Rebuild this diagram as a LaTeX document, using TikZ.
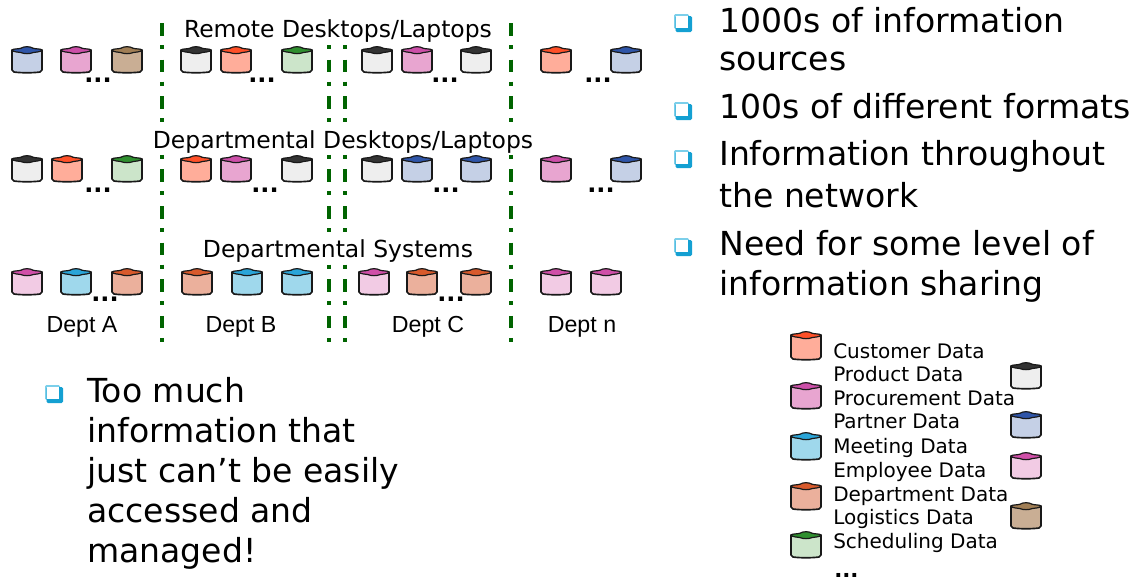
\documentclass[tikz,border=0pt]{standalone}
\usepackage{fontspec}
\setmainfont{DejaVu Sans}
\newfontfamily\arialf{Liberation Sans}
\definecolor{bluebody}{HTML}{C5D0E6}\definecolor{bluetop}{HTML}{2F55A8}
\definecolor{pinkbody}{HTML}{E8A5D0}\definecolor{pinktop}{HTML}{CC4FA8}
\definecolor{tanbody}{HTML}{C9AE94}\definecolor{tantop}{HTML}{A07E55}
\definecolor{darkbody}{HTML}{EEEEEE}\definecolor{darktop}{HTML}{333333}
\definecolor{orangebody}{HTML}{FFAD9A}\definecolor{orangetop}{HTML}{FF5028}
\definecolor{greenbody}{HTML}{CCE5CA}\definecolor{greentop}{HTML}{2F8F2F}
\definecolor{lightbody}{HTML}{F2CBE4}\definecolor{lighttop}{HTML}{D04FA8}
\definecolor{cyanbody}{HTML}{9FD8EC}\definecolor{cyantop}{HTML}{2AA5D8}
\definecolor{deptbody}{HTML}{EBB09C}\definecolor{depttop}{HTML}{D85A2C}
\definecolor{divider}{HTML}{006400}
\definecolor{bulletdark}{HTML}{14A0D2}
\definecolor{bulletlight}{HTML}{7CCFEA}
\newcommand{\cyl}[4][0]{% extra height, centre x, top y, colour
  \begin{scope}[shift={(#2,#3)}]
    \pgfmathsetmacro{\hh}{28+#1}
    \draw[line width=1.25pt,fill=#4body,line join=round,draw=black!90]
      (-15,4) -- (-15,\hh-4) -- (-13,\hh-2) .. controls (-6,\hh-1) and (6,\hh-1) .. (13,\hh-2) -- (15,\hh-4) -- (15,4) -- cycle;
    \draw[line width=0.9pt,fill=#4top,line join=round,draw=black!90]
      (-15,4) .. controls (-14,2.6) and (-9,3.2) .. (-6,2.2) .. controls (-3,0.2) and (3,0.2) .. (6,2.2) .. controls (9,3.2) and (14,2.6) .. (15,4) .. controls (14,6) and (9,6) .. (6,6.6) .. controls (3,8) and (-3,8) .. (-6,6.6) .. controls (-9,6) and (-14,6) .. (-15,4) -- cycle;
  \end{scope}}
\newcommand{\bul}[2]{\begin{scope}[shift={(#1,#2)}]
  \fill[bulletlight,rounded corners=1pt] (0,0) rectangle (15,15);
  \fill[bulletdark,rounded corners=1pt] (1.5,2) rectangle (18,18);
  \fill[white] (2,2) rectangle (14,14);
\end{scope}}
\tikzset{
  dividerline/.style={divider,line width=3pt,dash pattern=on 9.4pt off 7.1pt on 3pt off 7.95pt},
  maskedlabel/.style={fill=white,inner sep=0pt,anchor=base,text height=12pt,text depth=3.5pt,font=\fontsize{17.6pt}{20pt}\selectfont},
  deptlabel/.style={anchor=base,inner sep=0pt,font=\arialf\fontsize{17.4pt}{20pt}\selectfont},
  dotslabel/.style={anchor=base,inner sep=0pt,font=\bfseries\fontsize{18pt}{20pt}\selectfont},
  legenddots/.style={anchor=base west,inner sep=0pt,font=\bfseries\fontsize{16pt}{20pt}\selectfont},
  legendlabel/.style={anchor=base west,inner sep=0pt,font=\fontsize{15pt}{16pt}\selectfont},
  biglabel/.style={anchor=base west,inner sep=0pt,font=\fontsize{24.8pt}{26pt}\selectfont},
}
\begin{document}
\begin{tikzpicture}[x=0.75pt,y=-0.75pt]
\useasboundingbox (0,0) rectangle (1143,583);
% dividers
\coordinate (d1a) at (162,23); \coordinate (d1b) at (162,343);
\coordinate (d2a) at (329,23); \coordinate (d2b) at (329,343);
\coordinate (d3a) at (345,23); \coordinate (d3b) at (345,343);
\coordinate (d4a) at (511,23); \coordinate (d4b) at (511,343);
\draw[dividerline] (d1a) -- (d1b);
\draw[dividerline] (d2a) -- (d2b);
\draw[dividerline] (d3a) -- (d3b);
\draw[dividerline] (d4a) -- (d4b);
% tier labels
\node[maskedlabel] (t1) at (338,37) {Remote Desktops/Laptops};
\node[maskedlabel] (t2) at (343,148) {Departmental Desktops/Laptops};
\node[maskedlabel] (t3) at (338,257) {Departmental Systems};
% row 1
\cyl{27}{46}{blue}\cyl{76}{46}{pink}\cyl{127}{46}{tan}\cyl{196}{46}{dark}\cyl{236}{46}{orange}\cyl{297}{46}{green}
\cyl{377}{46}{dark}\cyl{417}{46}{pink}\cyl{476}{46}{dark}\cyl{556}{46}{orange}\cyl{626}{46}{blue}
% row 2
\cyl{27}{155}{dark}\cyl{67}{155}{orange}\cyl{127}{155}{green}\cyl{196}{155}{orange}\cyl{236}{155}{pink}\cyl{297}{155}{dark}
\cyl{377}{155}{dark}\cyl{417}{155}{blue}\cyl{476}{155}{blue}\cyl{556}{155}{pink}\cyl{626}{155}{blue}
% row 3
\cyl{27}{268}{light}\cyl{76}{268}{cyan}\cyl{127}{268}{dept}\cyl{197}{268}{dept}\cyl{247}{268}{cyan}\cyl{297}{268}{cyan}
\cyl{374}{268}{light}\cyl{422}{268}{dept}\cyl{476}{268}{dept}\cyl{556}{268}{light}\cyl{606}{268}{light}
% dots
\node[dotslabel] (r1d1) at (98,82) {...};
\node[dotslabel] (r1d2) at (262,82) {...};
\node[dotslabel] (r1d3) at (445,82) {...};
\node[dotslabel] (r1d4) at (598,82) {...};
\node[dotslabel] (r2d1) at (98,192) {...};
\node[dotslabel] (r2d2) at (265,192) {...};
\node[dotslabel] (r2d3) at (446,192) {...};
\node[dotslabel] (r2d4) at (601,192) {...};
\node[dotslabel] (r3d1) at (105,301) {...};
\node[dotslabel] (r3d2) at (451,301) {...};
% dept labels
\node[deptlabel] (da) at (82,332) {Dept A};
\node[deptlabel] (db) at (241,332) {Dept B};
\node[deptlabel] (dc) at (428,332) {Dept C};
\node[deptlabel] (dn) at (582,332) {Dept n};
% bottom-left bullet
\bul{45}{385}
\node[biglabel] (l1) at (87,402) {Too much};
\node[biglabel] (l2) at (87,442) {information that};
\node[biglabel] (l3) at (87,482) {just can’t be easily};
\node[biglabel] (l4) at (87,522) {accessed and};
\node[biglabel] (l5) at (87,562) {managed!};
% right bullets
\bul{674}{14}\bul{674}{102}\bul{674}{150}\bul{674}{238}
\node[biglabel] (b1) at (719,32) {1000s of information};
\node[biglabel] (b2) at (719,70) {sources};
\node[biglabel] (b3) at (719,118) {100s of different formats};
\node[biglabel] (b4) at (719,165) {Information throughout};
\node[biglabel] (b5) at (719,207) {the network};
\node[biglabel] (b6) at (719,255) {Need for some level of};
\node[biglabel] (b7) at (719,295) {information sharing};
% legend
\cyl[2]{806}{331}{orange}\cyl{806}{382}{pink}\cyl[1]{806}{432}{cyan}\cyl[1]{806}{482}{dept}\cyl[0]{806}{531}{green}
\cyl{1026}{362}{dark}\cyl{1026}{411}{blue}\cyl{1026}{452}{light}\cyl{1026}{502}{tan}
\node[legendlabel] (k1) at (833,358) {Customer Data};
\node[legendlabel] (k2) at (833,381) {Product Data};
\node[legendlabel] (k3) at (833,405) {Procurement Data};
\node[legendlabel] (k4) at (833,428) {Partner Data};
\node[legendlabel] (k5) at (833,453) {Meeting Data};
\node[legendlabel] (k6) at (833,477) {Employee Data};
\node[legendlabel] (k7) at (833,501) {Department Data};
\node[legendlabel] (k8) at (833,524) {Logistics Data};
\node[legendlabel] (k9) at (833,548) {Scheduling Data};
\node[legenddots] (k10) at (834,577.5) {...};
\end{tikzpicture}
\end{document}
